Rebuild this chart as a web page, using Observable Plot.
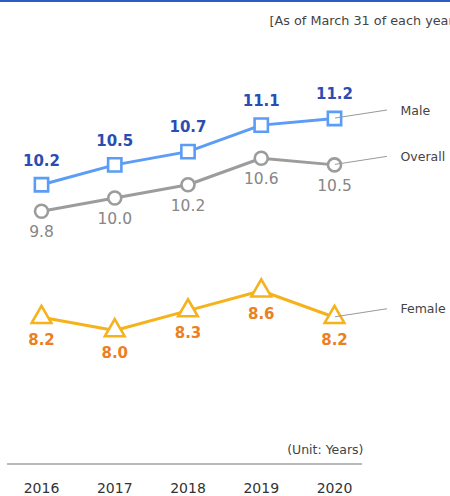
<!DOCTYPE html>
<html>
<head>
<meta charset="utf-8">
<script src="https://cdn.jsdelivr.net/npm/d3@7"></script>
<script src="https://cdn.jsdelivr.net/npm/@observablehq/plot@0.6"></script>
<style>
  html, body { margin: 0; padding: 0; background: #fff; }
  #chart svg { display: block; }
</style>
</head>
<body>
<div id="chart"></div>
<script>
// ---- data ----
const years = [2016, 2017, 2018, 2019, 2020];
const seriesNames = ["Male", "Overall", "Female"];
const male = [10.2, 10.5, 10.7, 11.1, 11.2];
const overall = [9.8, 10.0, 10.2, 10.6, 10.5];
const female = [8.2, 8.0, 8.3, 8.6, 8.2];
const headerText = "[As of March 31 of each year]";
const unitText = "(Unit: Years)";

const seriesValues = {Male: male, Overall: overall, Female: female};
const rows = seriesNames.flatMap(s => years.map((yr, i) => ({series: s, year: yr, value: seriesValues[s][i]})));
const lastRows = rows.filter(d => d.year === years[years.length - 1]);

const styles = {
  Male:    {line: "#5b9cf6", label: "#2a4db3", symbol: "square",   r: 7.5, weight: "bold",   size: 15,   dy: -24},
  Overall: {line: "#9c9c9c", label: "#868686", symbol: "circle",   r: 6.5, weight: "500",    size: 15.5, dy: 21},
  Female:  {line: "#f5b21b", label: "#ec7f22", symbol: "triangle", r: 7.3, weight: "bold",   size: 15,   dy: 23}
};

const font = "'DejaVu Sans', Verdana, sans-serif";

const marks = [];

// top blue bar
marks.push((index, scales, values, dims) => {
  const g = d3.create("svg:g");
  g.append("rect").attr("x", 0).attr("y", 0).attr("width", dims.width).attr("height", 2).attr("fill", "#2a5cc2");
  return g.node();
});

// bottom axis line
marks.push((index, scales, values, dims) => {
  const g = d3.create("svg:g");
  const yb = dims.height - dims.marginBottom;
  g.append("line")
    .attr("x1", dims.marginLeft).attr("x2", dims.width - dims.marginRight)
    .attr("y1", yb).attr("y2", yb)
    .attr("stroke", "#a3a3a3").attr("stroke-width", 1.5);
  return g.node();
});

for (const s of seriesNames) {
  const st = styles[s];
  const data = rows.filter(d => d.series === s);
  marks.push(Plot.line(data, {x: "year", y: "value", stroke: st.line, strokeWidth: 3}));
}

for (const s of seriesNames) {
  const st = styles[s];
  const data = rows.filter(d => d.series === s);
  marks.push(Plot.dot(data, {x: "year", y: "value", symbol: st.symbol, r: st.r, stroke: st.line, fill: "white", strokeWidth: 2.6}));
  marks.push(Plot.text(data, {
    x: "year", y: "value", text: d => d.value.toFixed(1),
    dy: st.dy, fill: st.label, fontWeight: st.weight, fontSize: st.size
  }));
}

// leader lines from last point to legend label (drawn over markers, as in reference)
marks.push((index, scales) => {
  const g = d3.create("svg:g");
  for (const d of lastRows) {
    const px = scales.x(d.year), py = scales.y(d.value);
    g.append("line")
      .attr("x1", px + 1).attr("y1", py)
      .attr("x2", px + 53).attr("y2", py - 8)
      .attr("stroke", "#999").attr("stroke-width", 1);
  }
  return g.node();
});

// series labels
marks.push(Plot.text(lastRows, {
  x: "year", y: "value", text: "series", dx: 66, dy: -8,
  textAnchor: "start", fill: "#444", fontSize: 12.5
}));

// header and unit
marks.push(Plot.text([headerText], {
  text: d => d, frameAnchor: "top-left", dx: 262, dy: 15,
  textAnchor: "start", fill: "#444", fontSize: 12.8
}));
marks.push(Plot.text([unitText], {
  text: d => d, frameAnchor: "bottom-right", dy: -11, dx: 1,
  textAnchor: "end", fill: "#444", fontSize: 12.5
}));

const chart = Plot.plot({
  width: 450,
  height: 496,
  marginTop: 0,
  marginLeft: 7,
  marginRight: 88,
  marginBottom: 32,
  style: {fontFamily: font, background: "white", color: "#333", fontSize: "14px", overflow: "hidden"},
  x: {domain: [years[0], years[years.length - 1]], range: [41, 334], ticks: years, tickFormat: "d", tickSize: 0, tickPadding: 19, label: null, axis: "bottom"},
  y: {domain: [8.0, 11.2], range: [330, 118], axis: null},
  marks
});
document.getElementById("chart").appendChild(chart);
</script>
</body>
</html>
